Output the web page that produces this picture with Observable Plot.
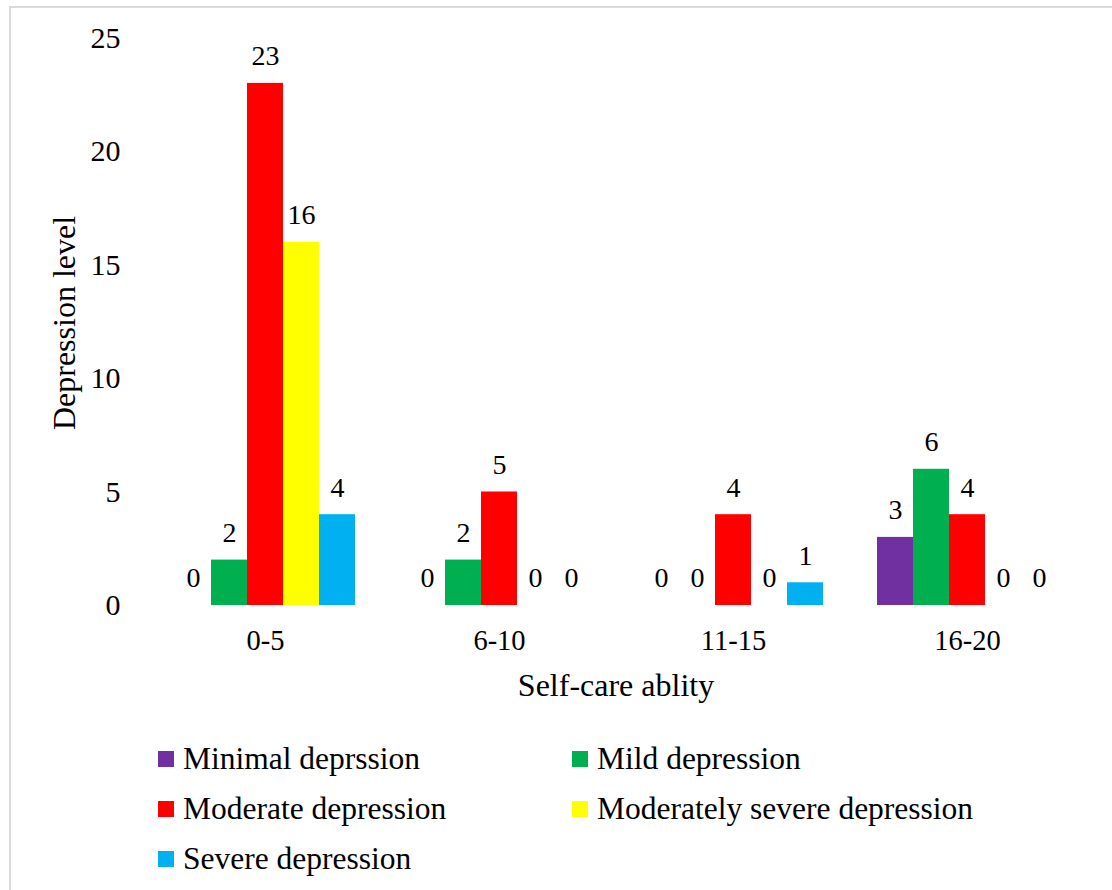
<!DOCTYPE html>
<html><head><meta charset="utf-8">
<script src="https://cdn.jsdelivr.net/npm/d3@7"></script>
<script src="https://cdn.jsdelivr.net/npm/@observablehq/plot@0.6"></script>
<style>
body{margin:0;background:#fff;font-family:"Liberation Serif","Times New Roman",serif;overflow:hidden;}
#frame{position:absolute;left:9px;top:6px;width:1200px;height:1000px;border-top:2px solid #d9d9d9;border-left:2px solid #d9d9d9;}
#chart{position:absolute;left:0;top:0;}
#legend{position:absolute;left:0;top:0;}
.item{position:absolute;height:40px;display:flex;align-items:center;font-size:31.5px;white-space:nowrap;color:#000;}
.sw{width:16px;height:16px;margin-right:9px;flex:none;}
.title{position:absolute;font-size:32px;white-space:nowrap;color:#000;line-height:36px;height:36px;width:400px;text-align:center;}
</style></head><body>
<div id="frame"></div><div id="chart"></div><div id="legend"></div>
<div class="title" id="ytitle" style="left:-136px;top:305px;transform:rotate(-90deg);">Depression level</div>
<div class="title" id="xtitle" style="left:416px;top:667px;">Self-care ablity</div>
<script>
const groups = ["0-5", "6-10", "11-15", "16-20"];
const series = ["Minimal deprssion", "Mild depression", "Moderate depression", "Moderately severe depression", "Severe depression"];
const colors = ["#7030A0", "#00B050", "#FF0000", "#FFFF00", "#00B0F0"];
const minimal   = [0, 0, 0, 3];
const mild      = [2, 2, 0, 6];
const moderate  = [23, 5, 4, 4];
const modSevere = [16, 0, 0, 0];
const severe    = [4, 0, 1, 0];
const yTicks = [0, 5, 10, 15, 20, 25];

const valuesBySeries = [minimal, mild, moderate, modSevere, severe];
const data = [];
groups.forEach((g, gi) => series.forEach((s, si) => data.push({group: g, series: s, value: valuesBySeries[si][gi]})));

const font = '"Liberation Serif","Times New Roman",serif';
const plot = Plot.plot({
  width: 1112, height: 700,
  marginLeft: 147, marginRight: 28, marginTop: 37.5, marginBottom: 95,
  style: {fontFamily: font, background: "transparent", color: "#000", overflow: "visible"},
  fx: {domain: groups, paddingInner: 0, paddingOuter: 0},
  x: {domain: series, paddingInner: 0, paddingOuter: 0.735, axis: null},
  y: {domain: [0, 25], axis: null},
  color: {domain: series, range: colors},
  marks: [
    Plot.barY(data, {fx: "group", x: "series", y: "value", fill: "series"}),
    Plot.text(data, {fx: "group", x: "series", y: "value", text: d => String(d.value), dy: -27, fontSize: 28, fill: "#000"}),
    Plot.axisY({ticks: yTicks, tickSize: 0, tickPadding: 28, fontSize: 30, label: null}),
    Plot.axisFx({anchor: "bottom", tickSize: 0, tickPadding: 24, fontSize: 28.5, label: null})
  ]
});
document.getElementById("chart").appendChild(plot);

const legend = document.getElementById("legend");
series.forEach((s, i) => {
  const col = i % 2, row = Math.floor(i / 2);
  const item = document.createElement("div");
  item.className = "item";
  item.style.left = (158 + col * 414) + "px";
  item.style.top = (739 + row * 50) + "px";
  const sw = document.createElement("span");
  sw.className = "sw";
  sw.style.background = colors[i];
  const tx = document.createElement("span");
  tx.textContent = s;
  item.appendChild(sw); item.appendChild(tx);
  legend.appendChild(item);
});
</script>
</body></html>
